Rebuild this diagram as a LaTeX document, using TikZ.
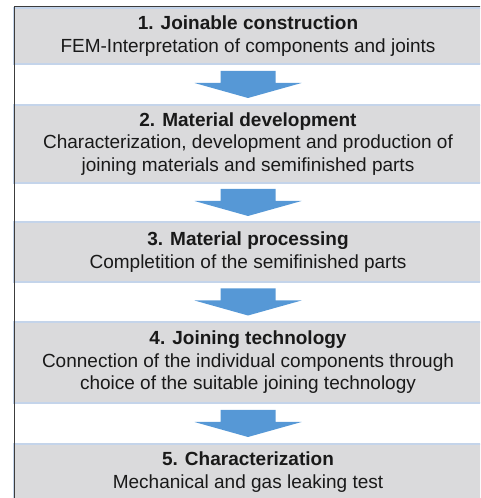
\documentclass[tikz,border=0pt]{standalone}
\usepackage{fontspec}
\setmainfont{Liberation Sans}
\usetikzlibrary{calc}
\definecolor{stagegray}{RGB}{218,218,220}
\definecolor{stageedge}{RGB}{196,212,234}
\definecolor{flowblue}{RGB}{86,152,214}
\definecolor{textgray}{RGB}{25,25,25}
\definecolor{framegray}{RGB}{60,60,60}
\tikzstyle{stagebox}=[fill=stagegray,draw=stageedge,line width=1.2pt,minimum width=468pt,inner sep=0pt,align=center,text=textgray,font=\fontsize{19}{22.5}\selectfont]
\tikzstyle{flowarrow}=[fill=flowblue]
\tikzstyle{frameline}=[draw=framegray,line width=1pt]

\begin{document}
\begin{tikzpicture}[x=1pt,y=1pt]
    \useasboundingbox (0,0) rectangle (480,498);
    \clip (0,0) rectangle (480,498);

    % the five stages
    \node[stagebox,minimum height=56pt] (joinable) at (248,462) {\textbf{1. Joinable construction}\\FEM-Interpretation of components and joints};
    \node[stagebox,minimum height=78pt] (matdev) at (248,354) {\textbf{2. Material development}\\Characterization, development and production of\\joining materials and semifinished parts};
    \node[stagebox,minimum height=60pt] (matproc) at (248,246) {\textbf{3. Material processing}\\Completition of the semifinished parts};
    \node[stagebox,minimum height=81pt] (jointech) at (248,135.5) {\textbf{4. Joining technology}\\Connection of the individual components through\\choice of the suitable joining technology};
    \node[stagebox,minimum height=56pt] (charact) at (248,26) {\textbf{5. Characterization}\\Mechanical and gas leaking test};

    % block arrows in the gaps
    \foreach \a/\b in {joinable/matdev,matdev/matproc,matproc/jointech,jointech/charact} {
        \coordinate (mid) at ($(\a.south)!0.5!(\b.north)$);
        \fill[flowarrow] ($(mid)+(-27.5,13.5)$) -- ($(mid)+(27.5,13.5)$) -- ($(mid)+(27.5,1.5)$)
            -- ($(mid)+(53.5,1.5)$) -- ($(mid)+(0,-13.5)$) -- ($(mid)+(-53.5,1.5)$)
            -- ($(mid)+(-27.5,1.5)$) -- cycle;
    }

    % outer frame
    \draw[frameline] (14.5,0) -- (14.5,491) -- (485,491);
\end{tikzpicture}
\end{document}
